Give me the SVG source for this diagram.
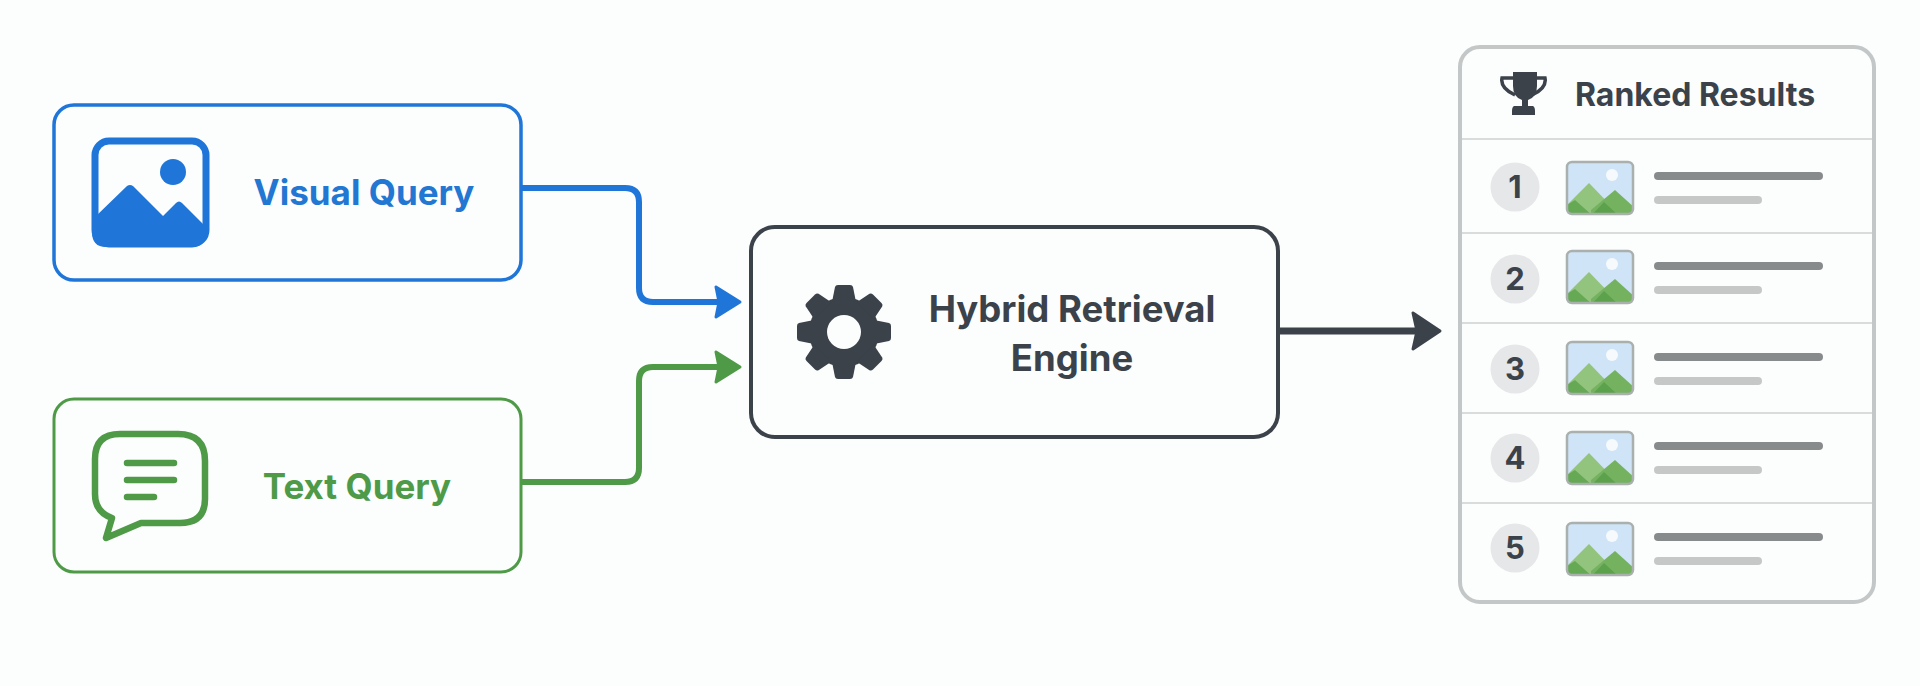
<svg xmlns="http://www.w3.org/2000/svg" xmlns:xlink="http://www.w3.org/1999/xlink" width="1920" height="686" viewBox="0 0 1920 686">
<style>
text{font-family:Inter,"Liberation Sans",sans-serif;font-weight:700;text-anchor:middle}
.box{fill:#fcfdfd;stroke-width:4}
.conn{fill:none;stroke-width:6;stroke-linejoin:round}
.blue{stroke:#1f76d8}.green{stroke:#4e9a47}.dark{stroke:#3b424a}
.sep{stroke:#d9dcdc;stroke-width:2}
.badge{fill:#e6e7e8}
.num{font-size:31px;font-weight:700;fill:#3b424a}
.l1{fill:#888b8c}.l2{fill:#c6c8c8}
</style>
<defs>
<marker id="ab" markerUnits="userSpaceOnUse" markerWidth="30" markerHeight="36" refX="22" refY="18" orient="auto"><path d="M3 3L27 18L3 33L6 18Z" fill="#1f76d8" stroke="#1f76d8" stroke-width="3" stroke-linejoin="round"/></marker>
<marker id="ag" markerUnits="userSpaceOnUse" markerWidth="30" markerHeight="36" refX="22" refY="18" orient="auto"><path d="M3 3L27 18L3 33L6 18Z" fill="#4e9a47" stroke="#4e9a47" stroke-width="3" stroke-linejoin="round"/></marker>
<marker id="ad" markerUnits="userSpaceOnUse" markerWidth="34" markerHeight="44" refX="26" refY="22" orient="auto"><path d="M4 4L31 22L4 40L8 22Z" fill="#3b424a" stroke="#3b424a" stroke-width="3" stroke-linejoin="round"/></marker>
<clipPath id="tc"><rect x="0" y="0" width="66" height="52" rx="5"/></clipPath>
<g id="thumb">
<rect x="0" y="0" width="66" height="52" rx="5" fill="#cfe4f6"/>
<g clip-path="url(#tc)">
<circle cx="45" cy="13" r="6" fill="#f6fafd"/>
<path d="M0 43L22 21L50 50L0 54Z" fill="#93c47d"/>
<path d="M24 48L48 28L68 46V54H24Z" fill="#74b260"/>
<path d="M0 43L8 38L26 54H0Z" fill="#66a955"/>
<path d="M24 54L37 40L52 54Z" fill="#5ca14c"/>
</g>
<rect x="0" y="0" width="66" height="52" rx="5" fill="none" stroke="#a9b0ae" stroke-width="2.500"/>
</g>
<path id="tooth" d="M-12 -30L-9 -45Q-8.500 -47 -6 -47H6Q8.500 -47 9 -45L12 -30Z" fill="#3b424a"/>
</defs>
<rect width="1920" height="686" fill="#fcfdfd"/>
<g id="connectors">
<path class="conn blue" marker-end="url(#ab)" d="M521 188H625Q639 188 639 202V288Q639 302 653 302H735"/>
<path class="conn green" marker-end="url(#ag)" d="M521 482H625Q639 482 639 468V381Q639 367 653 367H735"/>
<path class="conn dark" style="stroke-width:7" marker-end="url(#ad)" d="M1278 331H1435"/>
</g>
<g id="visual-query">
<rect class="box blue" style="stroke-width:3.500" x="54" y="105" width="467" height="175" rx="20"/>
<rect x="95" y="141" width="111" height="103" rx="14" fill="none" stroke="#1f76d8" stroke-width="7"/>
<circle cx="173" cy="172" r="13" fill="#1f76d8"/>
<path d="M95 217L127 186Q130 184 133 186L163 216L176 203Q179 200 182 203L206 227V232Q206 247 192 247H106Q92 247 92 232V219Z" fill="#1f76d8"/>
<text x="364" y="205" font-size="35" fill="#2277d2">Visual Query</text>
</g>
<g id="text-query">
<rect class="box green" style="stroke-width:3" x="54" y="399" width="467" height="173" rx="20"/>
<path d="M120 434H178Q205 434 205 461V499Q205 523 180 523H141L106 538L112 518Q95 512 95 494V459Q95 434 120 434Z" fill="none" stroke="#4e9a47" stroke-width="6.500" stroke-linejoin="round"/>
<path d="M127 463H174M127 480H174M127 497H154" fill="none" stroke="#4e9a47" stroke-width="6.500" stroke-linecap="round"/>
<text x="357" y="499" font-size="35" fill="#4e9a47">Text Query</text>
</g>
<g id="hybrid-engine">
<rect class="box dark" x="751" y="227" width="527" height="210" rx="24"/>
<g transform="translate(844 332)">
<circle r="35" fill="#3b424a"/>
<use xlink:href="#tooth"/><use xlink:href="#tooth" transform="rotate(45)"/><use xlink:href="#tooth" transform="rotate(90)"/><use xlink:href="#tooth" transform="rotate(135)"/><use xlink:href="#tooth" transform="rotate(180)"/><use xlink:href="#tooth" transform="rotate(225)"/><use xlink:href="#tooth" transform="rotate(270)"/><use xlink:href="#tooth" transform="rotate(315)"/>
<circle r="17" fill="#fcfdfd"/>
</g>
<text x="1072" y="322" font-size="36.500" fill="#3b424a">Hybrid Retrieval</text>
<text x="1072" y="371" font-size="36.500" fill="#3b424a">Engine</text>
</g>
<g id="ranked-results">
<rect class="box" x="1460" y="47" width="414" height="555" rx="20" stroke="#c4c7c7"/>
<path d="M1513 72H1537V86Q1537 97 1528 100V106H1533Q1535 107 1535 111V115H1512V111Q1512 107 1514 106H1522V100Q1513 97 1513 86Z" fill="#3b424a"/>
<path d="M1513 78H1502Q1500 88 1515 95M1537 78H1545Q1547 88 1532 95" fill="none" stroke="#3b424a" stroke-width="3.500"/>
<text x="1695" y="106" font-size="32" fill="#3b424a">Ranked Results</text>
<path class="sep" d="M1462 139H1872M1462 233H1872M1462 323H1872M1462 413H1872M1462 503H1872"/>
<g id="rank-1"><circle class="badge" cx="1515" cy="187" r="24.500"/><text class="num" x="1515" y="198">1</text><use xlink:href="#thumb" x="1567" y="162"/><rect class="l1" x="1654" y="172" width="169" height="8" rx="4"/><rect class="l2" x="1654" y="196" width="108" height="8" rx="4"/></g>
<g id="rank-2"><circle class="badge" cx="1515" cy="279" r="24.500"/><text class="num" x="1515" y="290">2</text><use xlink:href="#thumb" x="1567" y="251"/><rect class="l1" x="1654" y="262" width="169" height="8" rx="4"/><rect class="l2" x="1654" y="286" width="108" height="8" rx="4"/></g>
<g id="rank-3"><circle class="badge" cx="1515" cy="369" r="24.500"/><text class="num" x="1515" y="380">3</text><use xlink:href="#thumb" x="1567" y="342"/><rect class="l1" x="1654" y="353" width="169" height="8" rx="4"/><rect class="l2" x="1654" y="377" width="108" height="8" rx="4"/></g>
<g id="rank-4"><circle class="badge" cx="1515" cy="458" r="24.500"/><text class="num" x="1515" y="469">4</text><use xlink:href="#thumb" x="1567" y="432"/><rect class="l1" x="1654" y="442" width="169" height="8" rx="4"/><rect class="l2" x="1654" y="466" width="108" height="8" rx="4"/></g>
<g id="rank-5"><circle class="badge" cx="1515" cy="548" r="24.500"/><text class="num" x="1515" y="559">5</text><use xlink:href="#thumb" x="1567" y="523"/><rect class="l1" x="1654" y="533" width="169" height="8" rx="4"/><rect class="l2" x="1654" y="557" width="108" height="8" rx="4"/></g>
</g>
</svg>
